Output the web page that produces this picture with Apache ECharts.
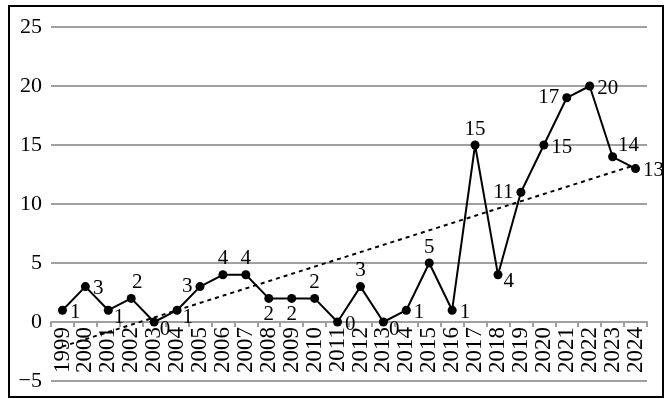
<!DOCTYPE html>
<html>
<head>
<meta charset="utf-8">
<script src="https://cdn.jsdelivr.net/npm/echarts@6/dist/echarts.min.js"></script>
<style>
  html, body { margin: 0; padding: 0; background: #fff; }
  #main { width: 666px; height: 399px; }
</style>
</head>
<body>
<div id="main"></div>
<script>
var chartDom = document.getElementById('main');
var myChart = echarts.init(chartDom);

// 年份
var years = ['1999', '2000', '2001', '2002', '2003', '2004', '2005', '2006', '2007',
    '2008', '2009', '2010', '2011', '2012', '2013', '2014', '2015', '2016', '2017',
    '2018', '2019', '2020', '2021', '2022', '2023', '2024'];
// 每年数量
var counts = [1, 3, 1, 2, 0, 1, 3, 4, 4, 2, 2, 2, 0, 3, 0, 1, 5, 1, 15, 4, 11, 15, 19, 20, 14, 13];
// 图上标注的文字 (2021 标为 17)
var labelText = ['1', '3', '1', '2', '0', '1', '3', '4', '4', '2', '2', '2', '0', '3', '0', '1', '5', '1', '15', '4', '11', '15', '17', '20', '14', '13'];
// 趋势线两端
var trendStart = -2.08;
var trendEnd = 13.31;

// 标注位置
var labelPlace = ['r', 'r', 'rb', 'tr', 'rb', 'rb', 'l', 't', 't', 'b', 'b', 't', 'r', 't', 'rb', 'r', 't', 'r', 't', 'rb', 'l', 'r', 'l', 'r', 'rt', 'r'];
var placeMap = {
    r: { position: 'right', distance: 3, offset: [0, 2] },
    rb: { position: 'right', distance: 1, offset: [0, 7] },
    rt: { position: 'right', distance: 1, offset: [0, -11] },
    tr: { position: 'top', distance: 1, offset: [6, 0] },
    t: { position: 'top', distance: 1 },
    b: { position: 'bottom', distance: 1 },
    l: { position: 'left', distance: 3 }
};

var serif = 'Liberation Serif';
var gridTop = 27, gridBottom = 18, yMin = -5, yMax = 25;
// x轴放到0的位置
var zeroShift = (399 - gridTop - gridBottom) * (0 - yMin) / (yMax - yMin);

var lineData = [];
for (var i = 0; i < counts.length; i++) {
    var p = placeMap[labelPlace[i]];
    lineData.push({
        value: counts[i],
        label: {
            show: true,
            position: p.position,
            distance: p.distance,
            offset: p.offset || [0, 0],
            formatter: labelText[i]
        }
    });
}

var trendData = [];
for (var i = 0; i < years.length; i++) {
    trendData.push(null);
}
trendData[0] = trendStart;
trendData[years.length - 1] = trendEnd;

var option = {
    animation: false,
    backgroundColor: '#fff',
    grid: { left: 51, right: 19, top: gridTop, bottom: gridBottom, outerBoundsMode: 'none', containLabel: false },
    graphic: [{
        type: 'rect',
        shape: { x: 9, y: 6, width: 654, height: 391 },
        style: { fill: 'none', stroke: '#000', lineWidth: 2 },
        z: 100
    }],
    xAxis: {
        type: 'category',
        data: years,
        boundaryGap: true,
        offset: -zeroShift,
        axisLine: { onZero: false, lineStyle: { color: '#a0a0a0', width: 2 } },
        axisTick: { show: true, length: 5, lineStyle: { color: '#a0a0a0', width: 2 } },
        axisLabel: {
            interval: 0,
            rotate: 90,
            margin: 5,
            color: '#000',
            fontFamily: serif,
            fontSize: 23
        }
    },
    yAxis: {
        type: 'value',
        min: yMin,
        max: yMax,
        interval: 5,
        axisLine: { show: false },
        axisTick: { show: false },
        splitLine: { lineStyle: { color: '#a0a0a0', width: 2 } },
        axisLabel: {
            margin: 9,
            color: '#000',
            fontFamily: serif,
            fontSize: 22,
            formatter: function(v) { return v < 0 ? '\u2212' + (-v) : String(v); }
        }
    },
    series: [{
        type: 'line',
        data: trendData,
        connectNulls: true,
        symbol: 'none',
        lineStyle: { color: '#000', width: 2, type: [4, 4] },
        z: 1
    }, {
        type: 'line',
        data: lineData,
        symbol: 'circle',
        symbolSize: 9,
        itemStyle: { color: '#000' },
        lineStyle: { color: '#000', width: 2 },
        label: {
            color: '#000',
            fontFamily: serif,
            fontSize: 21
        },
        z: 2
    }]
};

option && myChart.setOption(option);
</script>
</body>
</html>
